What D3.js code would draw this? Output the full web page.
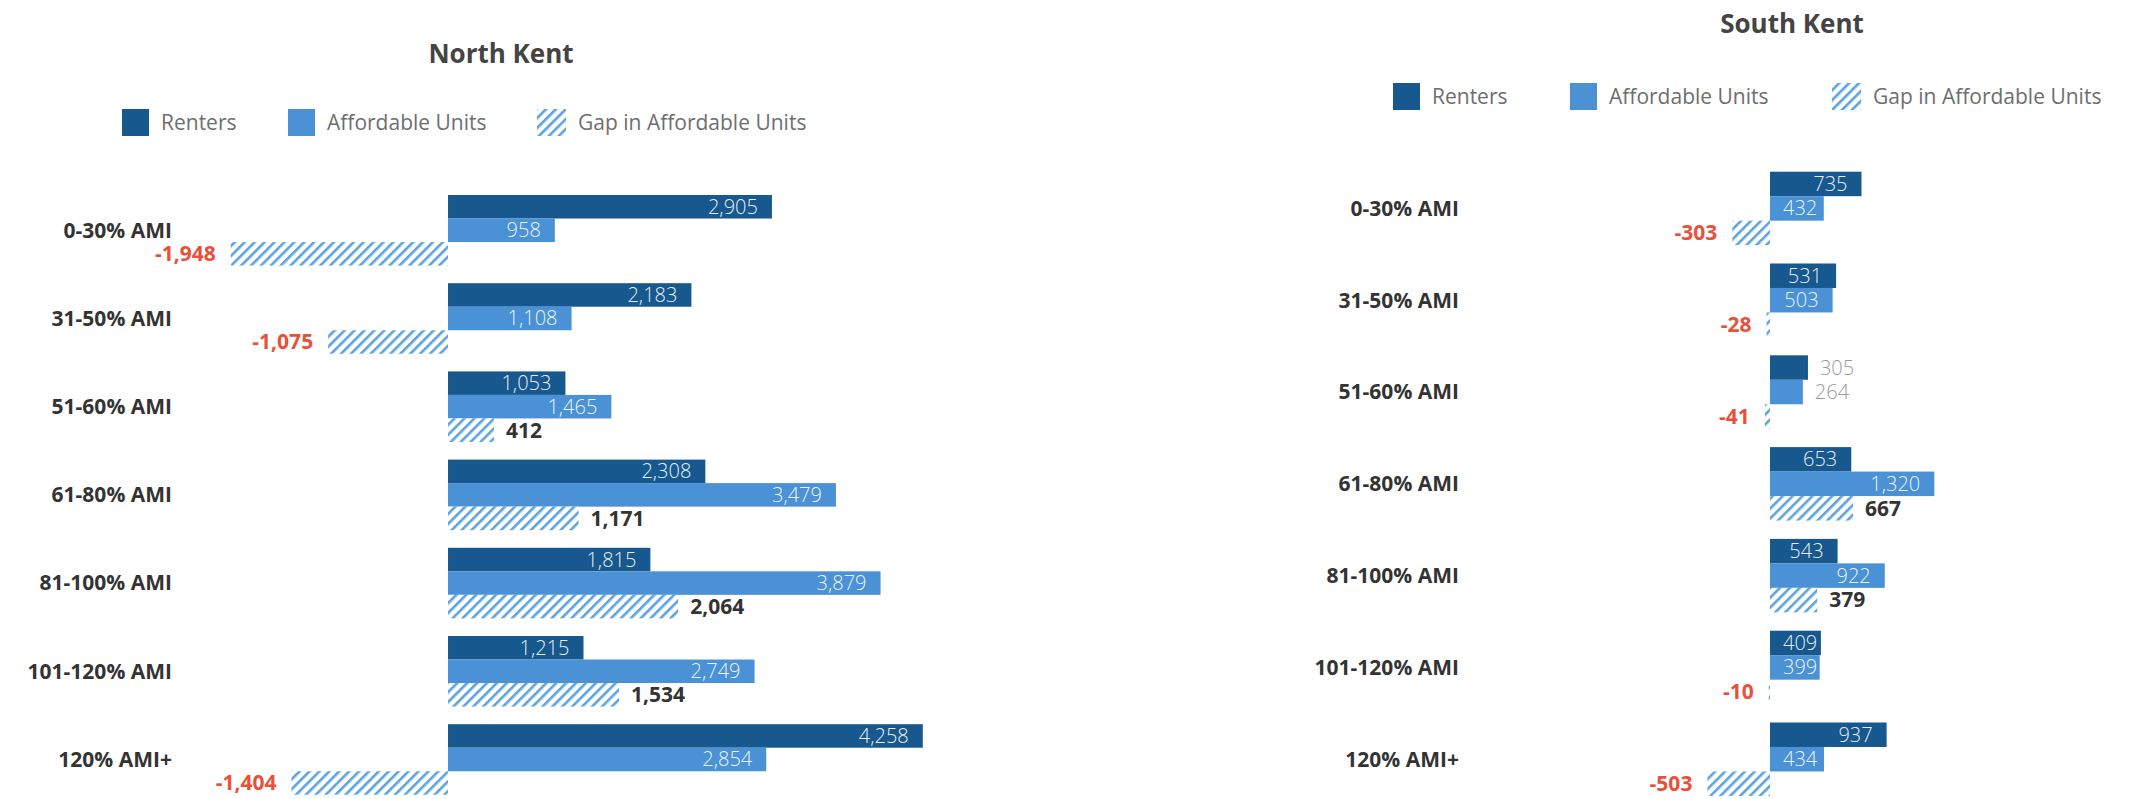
<!DOCTYPE html>
<html>
<head>
<meta charset="utf-8">
<script src="https://cdn.jsdelivr.net/npm/d3@7/dist/d3.min.js"></script>
<style>
  html, body { margin: 0; padding: 0; background: #ffffff; }
  svg { display: block; font-family: "Open Sans", "Noto Sans", sans-serif; }
</style>
</head>
<body>
<svg id="chart" width="2147" height="799"></svg>
<script>
// Income bands (share of Area Median Income)
const categories = ["0-30% AMI", "31-50% AMI", "51-60% AMI", "61-80% AMI", "81-100% AMI", "101-120% AMI", "120% AMI+"];
const seriesNames = ["Renters", "Affordable Units", "Gap in Affordable Units"];

// North Kent
const northRenters    = [2905, 2183, 1053, 2308, 1815, 1215, 4258];
const northAffordable = [958, 1108, 1465, 3479, 3879, 2749, 2854];
const northGap        = [-1948, -1075, 412, 1171, 2064, 1534, -1404];

// South Kent
const southRenters    = [735, 531, 305, 653, 543, 409, 937];
const southAffordable = [432, 503, 264, 1320, 922, 399, 434];
const southGap        = [-303, -28, -41, 667, 379, -10, -503];

const COLORS = { renters: "#17598f", affordable: "#4a91d5", hatch: "#5ba3e0", neg: "#e9503a", dark: "#333333", legend: "#6e6e6e", title: "#444444", faint: "#9a9a9a" };

const fmt = d3.formatLocale({ decimal: ".", thousands: ",", grouping: [3], currency: ["$", ""], minus: "-" }).format(",");

const svg = d3.select("#chart");
const defs = svg.append("defs");

// Diagonal hatch used for the gap series
const pat = defs.append("pattern")
  .attr("id", "hatch")
  .attr("patternUnits", "userSpaceOnUse")
  .attr("width", 7).attr("height", 7)
  .attr("patternTransform", "rotate(45)");
pat.append("rect").attr("width", 7).attr("height", 7).attr("fill", "#ffffff");
pat.append("rect").attr("x", 0).attr("y", 0).attr("width", 2.6).attr("height", 7).attr("fill", COLORS.hatch);

const panels = [
  {
    title: "North Kent", titleX: 501, titleY: 63,
    legendY: 109, legendX: [122, 288, 537],
    renters: northRenters, affordable: northAffordable, gap: northGap,
    xRange: [230.8, 922.8], groupTop: 195, step: 88.2, labelRight: 172
  },
  {
    title: "South Kent", titleX: 1792, titleY: 33,
    legendY: 83, legendX: [1393, 1570, 1832],
    renters: southRenters, affordable: southAffordable, gap: southGap,
    xRange: [1707.4, 1934.3], groupTop: 171.7, step: 91.8, labelRight: 1459
  }
];

panels.forEach(p => drawPanel(p));

function drawPanel(p) {
  const g = svg.append("g");

  // Title
  g.append("text")
    .attr("x", p.titleX).attr("y", p.titleY)
    .attr("text-anchor", "middle")
    .attr("font-size", 26).attr("font-weight", 700)
    .attr("fill", COLORS.title)
    .text(p.title);

  // Legend
  const fills = [COLORS.renters, COLORS.affordable, "url(#hatch)"];
  seriesNames.forEach((name, i) => {
    const lx = p.legendX[i];
    const sw = i === 2 ? 29 : 27;
    g.append("rect")
      .attr("x", lx).attr("y", p.legendY)
      .attr("width", sw).attr("height", 27)
      .attr("fill", fills[i]);
    g.append("text")
      .attr("x", lx + sw + 12).attr("y", p.legendY + 13.5)
      .attr("dy", "0.35em")
      .attr("font-size", 21)
      .attr("fill", COLORS.legend)
      .text(name);
  });

  const allVals = p.renters.concat(p.affordable, p.gap);
  const x = d3.scaleLinear().domain(d3.extent(allVals)).range(p.xRange);
  const x0 = x(0);

  const n = categories.length;
  const y = d3.scaleBand()
    .domain(categories)
    .range([p.groupTop - p.step * 0.1, p.groupTop - p.step * 0.1 + p.step * n])
    .paddingInner(0.2).paddingOuter(0.1);
  const ySub = d3.scaleBand().domain(["renters", "affordable", "gap"]).range([0, y.bandwidth()]);

  // Category labels
  g.selectAll(".cat").data(categories).join("text")
    .attr("x", p.labelRight)
    .attr("y", d => y(d) + y.bandwidth() / 2)
    .attr("dy", "0.35em")
    .attr("text-anchor", "end")
    .attr("font-size", 21).attr("font-weight", 700)
    .attr("fill", COLORS.dark)
    .text(d => d);

  const rows = categories.map((c, i) => ({
    cat: c, renters: p.renters[i], affordable: p.affordable[i], gap: p.gap[i]
  }));

  // Solid bars (renters, affordable units) with values inside
  ["renters", "affordable"].forEach(key => {
    const grp = g.append("g");
    grp.selectAll("rect").data(rows).join("rect")
      .attr("x", d => Math.min(x0, x(d[key])))
      .attr("y", d => y(d.cat) + ySub(key))
      .attr("width", d => Math.abs(x(d[key]) - x0))
      .attr("height", ySub.bandwidth())
      .attr("fill", COLORS[key]);

    rows.forEach(d => {
      const end = x(d[key]);
      const cy = y(d.cat) + ySub(key) + ySub.bandwidth() / 2;
      const t = grp.append("text")
        .attr("y", cy).attr("dy", "0.35em")
        .attr("font-size", 20).attr("font-weight", 300)
        .text(fmt(d[key]));
      const w = t.node().getComputedTextLength();
      if (end - x0 < w + 14) {
        // too short: label sits just past the bar
        t.attr("x", end + 12).attr("text-anchor", "start").attr("fill", COLORS.faint);
      } else {
        let right = end - 14;
        if (right - w < x0 + 13) right = Math.min(end, x0 + 13 + w);
        t.attr("x", right).attr("text-anchor", "end").attr("fill", "#ffffff").attr("fill-opacity", 0.92);
      }
    });
  });

  // Gap bars (hatched) with values outside the bar end
  const gg = g.append("g");
  gg.selectAll("rect").data(rows).join("rect")
    .attr("x", d => Math.min(x0, x(d.gap)))
    .attr("y", d => y(d.cat) + ySub("gap"))
    .attr("width", d => Math.abs(x(d.gap) - x0))
    .attr("height", ySub.bandwidth())
    .attr("fill", "url(#hatch)");

  gg.selectAll("text").data(rows).join("text")
    .attr("x", d => d.gap < 0 ? x(d.gap) - 15 : x(d.gap) + 12)
    .attr("y", d => y(d.cat) + ySub("gap") + ySub.bandwidth() / 2)
    .attr("dy", "0.35em")
    .attr("text-anchor", d => d.gap < 0 ? "end" : "start")
    .attr("font-size", 21).attr("font-weight", 700)
    .attr("fill", d => d.gap < 0 ? COLORS.neg : COLORS.dark)
    .text(d => fmt(d.gap));
}
</script>
</body>
</html>
